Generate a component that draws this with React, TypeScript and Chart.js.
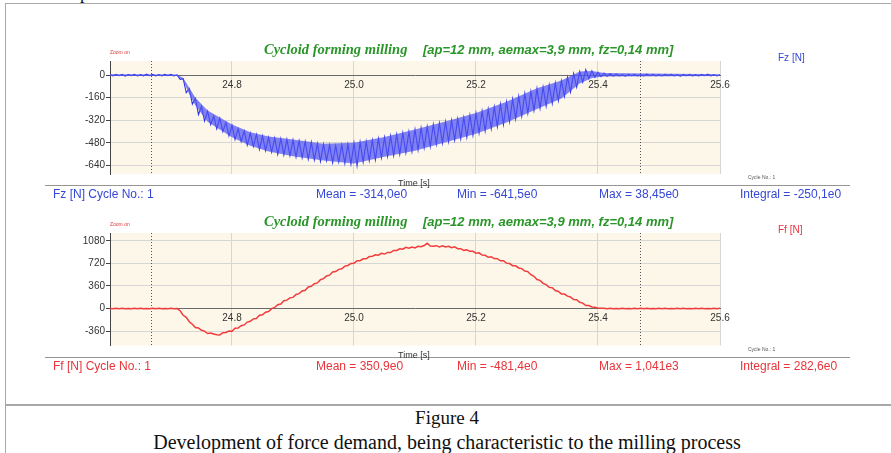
import React, { useEffect, useRef } from 'react';
import { Chart, registerables } from 'chart.js';

Chart.register(...registerables);

// ---------- data ----------
const T_START = 24.6; // first sample time [s]
const T_STEP = 0.005; // sampling interval [s]
const X_MIN = 24.6;
const X_MAX = 25.6;
const xTicks = [24.8, 25.0, 25.2, 25.4, 25.6];
const cursorTimes = [24.667, 25.469];

const fzTicks = [-640, -480, -320, -160, 0];
const fzRange = [-700, 100];
const ffTicks = [-360, 0, 360, 720, 1080];
const ffRange = [-590, 1205];

// Fz [N] samples, 24.600 .. 25.600 s
const fzValues = [
  3, -5, 6, -4, 5, -7, 4, -3, 6, -6, 3, -5, 7, -4, 5, -6, 4, -5, 6, -3, 5, -6, 2,
  -30, -25, -125, -95, -205, -165, -280, -220, -325, -255, -350, -290, -380, -305, -400, -335, -430, -355,
  -455, -380, -470, -395, -495, -410, -505, -420, -525, -430, -535, -440, -545, -445, -560, -450, -565, -455, -570, -460,
  -580, -465, -585, -470, -595, -475, -600, -485, -610, -490, -605, -495, -620, -500, -615, -495, -625, -490, -630, -480,
  -641, -475, -615, -470, -605, -460, -600, -450, -585, -440, -575, -430, -570, -420, -560, -410, -550, -400, -540, -385,
  -530, -375, -515, -365, -505, -350, -490, -340, -480, -330, -470, -320, -460, -310, -450, -300, -440, -285, -425, -270,
  -410, -255, -395, -240, -380, -225, -365, -205, -350, -190, -330, -170, -310, -150, -290, -130, -270, -115, -250, -95,
  -235, -85, -220, -70, -200, -55, -180, -40, -150, -15, -120, 10, -85, 25, -50, 38, -25, 30, -15, 20,
  -10, 15, -8, 10,
  -6, 7, -5, 4, -7, 6, -4, 5, -6, 3, -5, 7, -4, 6, -5, 4, -6, 5, -3, 6, -5, 4, -7, 5, -4, 6, -5, 3, -6, 5, -4, 7, -5, 4, -6, 3,
];

// Fz noise band (upper / lower envelope)
const fzBandTimes = [24.6, 24.71, 24.72, 24.73, 24.74, 24.76, 24.78, 24.8, 24.83, 24.86, 24.9, 24.95, 25.0, 25.05, 25.1, 25.15, 25.2, 25.25, 25.3, 25.34, 25.37, 25.39, 25.41, 25.6];
const fzBandUpper = [6, 5, -20, -90, -160, -250, -300, -350, -405, -435, -455, -485, -478, -438, -385, -328, -268, -188, -93, -38, 25, 30, 15, 6];
const fzBandLower = [-7, -6, -40, -135, -215, -330, -385, -440, -500, -540, -575, -605, -625, -578, -535, -475, -415, -335, -240, -165, -60, -20, -10, -7];

// Ff [N] samples, 24.600 .. 25.600 s
const ffValues = [
  2, -3, 3, -2, 4, -3, 2, -4, 3, -2, 3, -3, 2, -3, 4, -2, 3, -3, 2, -4, 3, -2, 0,
  -35, -108, -141, -211, -250, -302, -311, -348, -360, -398,
  -391, -406, -420, -422, -386, -383, -360, -363, -316, -311,
  -275, -262, -216, -203, -165, -158, -106, -101, -60, -47,
  -1, 17, 60, 72, 124, 134, 170, 178, 224, 237,
  280, 292, 344, 354, 395, 408, 459, 477, 520, 532,
  582, 589, 625, 633, 677, 687, 720, 722, 764, 764,
  793, 793, 829, 832, 858, 852, 882, 869, 895, 893,
  927, 927, 953, 947, 977, 964, 980, 968, 994, 987,
  1005, 1041, 996, 994, 1003, 983, 999, 982, 992, 970,
  984, 954, 955, 928, 937, 912, 913, 882, 889, 854,
  850, 818, 824, 797, 795, 762, 764, 724, 717, 683,
  681, 647, 637, 597, 589, 539, 515, 463, 449, 402,
  382, 337, 332, 286, 273, 233, 231, 197, 185, 142,
  141, 99, 87, 48, 47, 25, 19, 5, 3,
  3, -2, 4, -3, 2, -3, 3, -4, 2, -2, 3, -3, 4, -2, 3, -3, 2, -4, 3, -2,
  3, -3, 2, -3, 4, -2, 3, -3, 2, -4, 3, -2, 3, -3, 2, -3, 4, -2, 3,
];

const fzStats = ['Fz [N] Cycle No.: 1', 'Mean = -314,0e0', 'Min = -641,5e0', 'Max = 38,45e0', 'Integral = -250,1e0'];
const ffStats = ['Ff [N] Cycle No.: 1', 'Mean = 350,9e0', 'Min = -481,4e0', 'Max = 1,041e3', 'Integral = 282,6e0'];

const titleSerif = 'Cycloid forming milling';
const titleSans = '[ap=12 mm, aemax=3,9 mm, fz=0,14 mm]';
const captionLines = ['Figure 4', 'Development of force demand, being characteristic to the milling process'];

// ---------- styling ----------
const SANS = '"Liberation Sans", Arial, sans-serif';
const SERIF = '"Liberation Serif", "Times New Roman", serif';
const BLUE = '#3447d6';
const RED = '#e8343a';
const GREEN = '#2a962a';
const LINE_BLUE = '#2d31e8';
const BAND_BLUE = 'rgba(80,84,244,0.72)';
const LINE_RED = '#f03c3c';
const statX = [53, 316, 457, 599, 740];

const bgPlugin = {
  id: 'plotBg',
  beforeDraw(chart: any) {
    const { ctx, chartArea: a } = chart;
    ctx.save();
    ctx.fillStyle = '#fcf7e9';
    ctx.fillRect(a.left, a.top, a.right - a.left, a.bottom - a.top);
    ctx.restore();
  },
};

const cursorPlugin = {
  id: 'cursors',
  beforeDatasetsDraw(chart: any) {
    const { ctx, chartArea: a, scales } = chart;
    ctx.save();
    ctx.strokeStyle = '#555';
    ctx.lineWidth = 1;
    ctx.setLineDash([1, 2]);
    for (const t of cursorTimes) {
      const x = Math.round(scales.x.getPixelForValue(t)) + 0.5;
      ctx.beginPath();
      ctx.moveTo(x, a.top);
      ctx.lineTo(x, a.bottom);
      ctx.stroke();
    }
    ctx.restore();
  },
};

const samples = (values: number[]) => values.map((v, i) => ({ x: T_START + i * T_STEP, y: v }));
const pairs = (ts: number[], vs: number[]) => ts.map((t, i) => ({ x: t, y: vs[i] }));

function makeChart(canvas: HTMLCanvasElement, datasets: any[], yTicks: number[], yRange: number[], padBottom: number) {
  return new Chart(canvas, {
    type: 'line',
    data: { datasets },
    options: {
      animation: false,
      responsive: false,
      devicePixelRatio: 1,
      layout: { padding: { left: 70, right: 171, top: 21, bottom: padBottom } },
      plugins: { legend: { display: false }, tooltip: { enabled: false }, title: { display: false } },
      elements: { point: { radius: 0 }, line: { tension: 0 } },
      scales: {
        x: {
          type: 'linear',
          min: X_MIN,
          max: X_MAX,
          position: { y: 0 } as any,
          afterBuildTicks: (s: any) => {
            s.ticks = xTicks.map((v) => ({ value: v }));
          },
          grid: { color: '#d6d6d6', drawTicks: false },
          border: { display: true, color: '#6a6a6a', width: 1 },
          ticks: {
            color: '#333',
            font: { family: SANS, size: 10 },
            padding: 4,
            maxRotation: 0,
            autoSkip: false,
            callback: (v: any) => Number(v).toFixed(1),
          },
        },
        y: {
          type: 'linear',
          min: yRange[0],
          max: yRange[1],
          afterBuildTicks: (s: any) => {
            s.ticks = yTicks.map((v) => ({ value: v }));
          },
          afterFit: (s: any) => {
            s.width = 40;
          },
          grid: { color: '#d6d6d6', tickColor: '#444', tickLength: 4 },
          border: { display: true, color: '#444', width: 1 },
          ticks: {
            color: '#333',
            font: { family: SANS, size: 10 },
            padding: 1,
            autoSkip: false,
            callback: (v: any) => String(v),
          },
        },
      },
    },
    plugins: [bgPlugin, cursorPlugin],
  } as any);
}

function Txt(props: { x: number; cy: number; size: number; color: string; font?: string; weight?: string | number; italic?: boolean; children: React.ReactNode }) {
  const { x, cy, size, color, font, weight, italic, children } = props;
  return (
    <div
      style={{
        position: 'absolute',
        left: x,
        top: cy - size / 2,
        fontSize: size,
        lineHeight: 1,
        color,
        fontFamily: font || SANS,
        fontWeight: (weight as any) || 'normal',
        fontStyle: italic ? 'italic' : 'normal',
        whiteSpace: 'pre',
      }}
    >
      {children}
    </div>
  );
}

function PanelTexts(props: { dy: number; label: string; stats: string[]; color: string }) {
  const { dy, label, stats, color } = props;
  return (
    <>
      <Txt x={110} cy={52.5 + dy} size={5} color="#e03a3a">Zoom on</Txt>
      <Txt x={264} cy={49 + dy} size={14.5} color={GREEN} font={SERIF} weight="bold" italic>{titleSerif}</Txt>
      <Txt x={423} cy={49 + dy} size={13} color={GREEN} weight="bold" italic>{titleSans}</Txt>
      <Txt x={778} cy={58 + dy} size={10} color={color}>{label}</Txt>
      <Txt x={748} cy={177 + dy} size={5} color="#555">Cycle No.: 1</Txt>
      <div style={{ position: 'absolute', left: 45, top: 184.5 + dy, width: 805, height: 1.5, background: '#959595' }} />
      <Txt x={398} cy={183 + dy} size={9} color="#333">Time [s]</Txt>
      {stats.map((s, i) => (
        <Txt key={i} x={statX[i]} cy={194 + dy} size={12} color={color}>{s}</Txt>
      ))}
    </>
  );
}

export default function App() {
  const c1 = useRef<HTMLCanvasElement>(null);
  const c2 = useRef<HTMLCanvasElement>(null);

  useEffect(() => {
    const a = makeChart(
      c1.current!,
      [
        { data: pairs(fzBandTimes, fzBandLower), borderWidth: 0, fill: false },
        { data: pairs(fzBandTimes, fzBandUpper), borderWidth: 0, fill: '-1', backgroundColor: BAND_BLUE },
        { data: samples(fzValues), borderColor: LINE_BLUE, borderWidth: 1.1, fill: false },
      ],
      fzTicks,
      fzRange,
      26
    );
    const b = makeChart(
      c2.current!,
      [{ data: samples(ffValues), borderColor: LINE_RED, borderWidth: 1.5, fill: false }],
      ffTicks,
      ffRange,
      26.5
    );
    return () => {
      a.destroy();
      b.destroy();
    };
  }, []);

  return (
    <div style={{ position: 'absolute', left: 0, top: 0, width: 891, height: 453, background: '#fff', overflow: 'hidden' }}>
      <div style={{ position: 'absolute', left: 80, top: -15.6, fontFamily: SERIF, fontSize: 18, lineHeight: 1, color: '#111' }}>p</div>
      <div style={{ position: 'absolute', left: 5, top: 2.5, width: 886, height: 1.5, background: '#a8a8a8' }} />
      <div style={{ position: 'absolute', left: 4.5, top: 2.5, width: 1.5, height: 451, background: '#a8a8a8' }} />
      <div style={{ position: 'absolute', left: 5, top: 404, width: 886, height: 1.5, background: '#a8a8a8' }} />

      <canvas ref={c1} width={891} height={160} style={{ position: 'absolute', left: 0, top: 40, width: 891, height: 160 }} />
      <canvas ref={c2} width={891} height={160} style={{ position: 'absolute', left: 0, top: 212, width: 891, height: 160 }} />

      <PanelTexts dy={0} label="Fz [N]" stats={fzStats} color={BLUE} />
      <PanelTexts dy={172} label="Ff [N]" stats={ffStats} color={RED} />

      <div style={{ position: 'absolute', left: 0, width: 894, top: 417 - 9.5, fontFamily: SERIF, fontSize: 19, lineHeight: 1, textAlign: 'center', color: '#111' }}>{captionLines[0]}</div>
      <div style={{ position: 'absolute', left: 0, width: 894, top: 442 - 10, fontFamily: SERIF, fontSize: 20, lineHeight: 1, textAlign: 'center', color: '#111', whiteSpace: 'nowrap' }}>{captionLines[1]}</div>
    </div>
  );
}
